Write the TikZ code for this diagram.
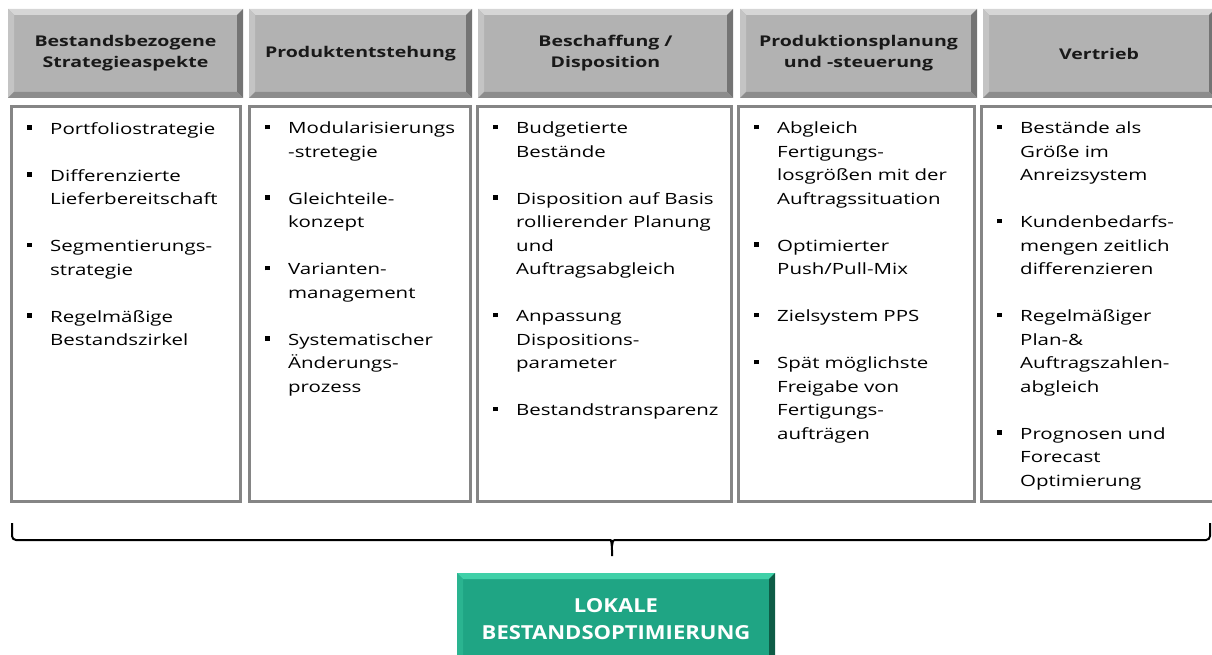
\documentclass[tikz,border=0pt]{standalone}
\usepackage{fontspec}
\setmainfont{Open Sans}[FakeStretch=1.32]
\newfontfamily\goalface{Open Sans}[FakeStretch=1.14]
\usepackage{tikz}
\usetikzlibrary{positioning,calc}
\definecolor{hdrgray}{RGB}{178,178,178}
\definecolor{hdrlight}{RGB}{214,214,214}
\definecolor{hdrside}{RGB}{196,196,196}
\definecolor{hdrdark}{RGB}{116,116,116}
\definecolor{hdrbottom}{RGB}{140,140,140}
\definecolor{boxline}{RGB}{133,133,133}
\definecolor{optgreen}{RGB}{31,165,132}
\definecolor{optlight}{RGB}{64,208,168}
\definecolor{optside}{RGB}{42,180,144}
\definecolor{optdark}{RGB}{14,92,70}
\definecolor{optbottom}{RGB}{20,122,94}
\newcommand{\hdrfont}{\fontsize{14.8}{21}\selectfont\bfseries}
\newcommand{\itemfont}{\fontsize{15.5}{23.5}\selectfont}
\newcommand{\goalfont}{\goalface\fontsize{19.3}{27}\selectfont\bfseries}
\newcommand{\bul}[1]{{\let\\\newline\hangindent=23pt\hangafter=1\noindent
  \makebox[23pt][l]{\rule[4.5pt]{4.5pt}{4.5pt}}#1\par}\vspace{23.5pt}}
\tikzset{
  bevel/.style n args={4}{path picture={
    \coordinate (pnw) at (path picture bounding box.north west);
    \coordinate (pne) at (path picture bounding box.north east);
    \coordinate (psw) at (path picture bounding box.south west);
    \coordinate (pse) at (path picture bounding box.south east);
    \fill[#1] (pnw) -- (pne) -- ([shift={(-6pt,-6pt)}]pne) -- ([shift={(6pt,-6pt)}]pnw) -- cycle;
    \fill[#2] (pnw) -- (psw) -- ([shift={(6pt,6pt)}]psw) -- ([shift={(6pt,-6pt)}]pnw) -- cycle;
    \fill[#3] (pne) -- (pse) -- ([shift={(-6pt,6pt)}]pse) -- ([shift={(-6pt,-6pt)}]pne) -- cycle;
    \fill[#4] (psw) -- (pse) -- ([shift={(-6pt,6pt)}]pse) -- ([shift={(6pt,6pt)}]psw) -- cycle;
  }},
  hdr/.style   = {minimum height=89pt, inner sep=0pt, outer sep=0pt, align=center, fill=hdrgray,
                  bevel={hdrlight}{hdrside}{hdrdark}{hdrbottom}, font=\hdrfont, text=black!90},
  col/.style   = {draw=boxline, line width=3pt, fill=white, minimum height=395pt, inner sep=0pt},
  items/.style = {anchor=north west, inner sep=0pt, text width=240pt, font=\itemfont},
  goal/.style  = {minimum width=318pt, minimum height=91pt, inner sep=0pt, align=center, fill=optgreen,
                  bevel={optlight}{optside}{optdark}{optbottom}, font=\goalfont, text=white},
  bracket/.style = {line width=2pt, rounded corners=4pt},
}

\begin{document}
\begin{tikzpicture}[x=1pt, y=-1pt, node distance=6pt]
  \useasboundingbox (0,0) rectangle (1212,655);
  \clip (0,0) rectangle (1212,655);

  % header row
  \node[hdr, anchor=north west, minimum width=235pt] (h1) at (8,9) {Bestandsbezogene\\Strategieaspekte};
  \node[hdr, right=of h1, minimum width=223pt] (h2) {Produktentstehung};
  \node[hdr, right=of h2, minimum width=255pt] (h3) {Beschaffung /\\Disposition};
  \node[hdr, right=7pt of h3, minimum width=237pt] (h4) {Produktionsplanung\\und -steuerung};
  \node[hdr, right=of h4, minimum width=232pt] (h5) {Vertrieb};

  % columns
  \node[col, anchor=north west, minimum width=229pt] (b1) at (10,105) {};
  \node[col, right=6pt of b1, minimum width=221pt] (b2) {};
  \node[col, right=4pt of b2, minimum width=254pt] (b3) {};
  \node[col, right=4pt of b3, minimum width=236pt] (b4) {};
  \node[col, right=4pt of b4, minimum width=236pt] (b5) {};

  \node[items] (t1) at ([xshift=17pt,yshift=-17pt]b1.north west) {%
    \bul{Portfoliostrategie}
    \bul{Differenzierte\\Lieferbereitschaft}
    \bul{Segmentierungs-\\strategie}
    \bul{Regelmäßige\\Bestandszirkel}};
  \node[items] (t2) at ([xshift=17pt,yshift=-17pt]b2.north west) {%
    \bul{Modularisierungs\\-stretegie}
    \bul{Gleichteile-\\konzept}
    \bul{Varianten-\\management}
    \bul{Systematischer\\Änderungs-\\prozess}};
  \node[items] (t3) at ([xshift=17pt,yshift=-17pt]b3.north west) {%
    \bul{Budgetierte\\Bestände}
    \bul{Disposition auf Basis\\rollierender Planung\\und\\Auftragsabgleich}
    \bul{Anpassung\\Dispositions-\\parameter}
    \bul{Bestandstransparenz}};
  \node[items] (t4) at ([xshift=17pt,yshift=-17pt]b4.north west) {%
    \bul{Abgleich\\Fertigungs-\\losgrößen mit der\\Auftragssituation}
    \bul{Optimierter\\Push/Pull-Mix}
    \bul{Zielsystem PPS}
    \bul{Spät möglichste\\Freigabe von\\Fertigungs-\\aufträgen}};
  \node[items] (t5) at ([xshift=17pt,yshift=-17pt]b5.north west) {%
    \bul{Bestände als\\Größe im\\Anreizsystem}
    \bul{Kundenbedarfs-\\mengen zeitlich\\differenzieren}
    \bul{Regelmäßiger\\Plan-\&\\Auftragszahlen-\\abgleich}
    \bul{Prognosen und\\Forecast\\Optimierung}};

  % bracket and result
  \coordinate (brL) at (12,523);
  \coordinate (brR) at (1210,523);
  \coordinate (brM) at (612,540);
  \coordinate (brT) at (612,556);
  \draw[bracket] (brL) |- ([xshift=-7pt]brM) .. controls ([xshift=-1pt]brM) .. ([yshift=-6pt]brM) -- (brT);
  \draw[bracket] (brR) |- ([xshift=7pt]brM) .. controls ([xshift=1pt]brM) .. ([yshift=-6pt]brM);

  \node[goal, anchor=north] (opt) at (616,573) {LOKALE\\BESTANDSOPTIMIERUNG};
\end{tikzpicture}
\end{document}
